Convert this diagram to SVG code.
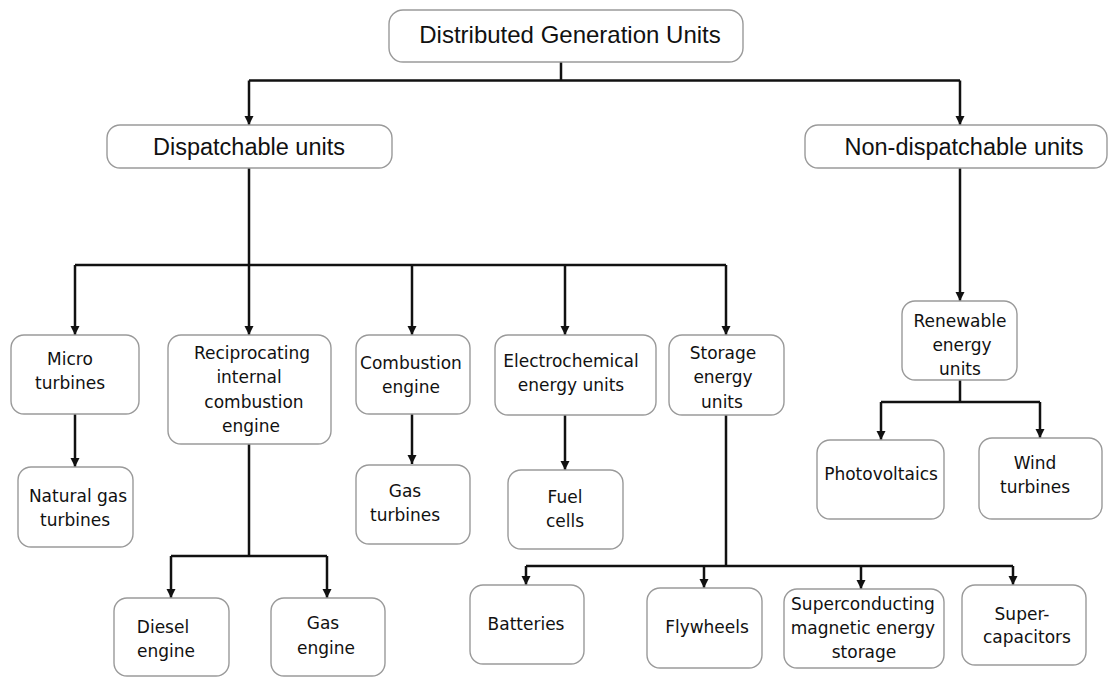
<svg xmlns="http://www.w3.org/2000/svg" width="1109" height="677" viewBox="0 0 1109 677">
<style>
.box{fill:#fff;stroke:#9a9a9a;stroke-width:1.4}
.big{font-family:"Liberation Sans",Arial,sans-serif;font-size:23.5px;fill:#111;text-anchor:middle}
.sm{font-family:"DejaVu Sans",sans-serif;font-size:17px;fill:#111;text-anchor:middle}
.ln{fill:none;stroke:#111;stroke-width:2.5}
.ar{fill:none;stroke:#111;stroke-width:2.5;marker-end:url(#ah)}
</style>
<defs>
<marker id="ah" markerUnits="userSpaceOnUse" markerWidth="10" markerHeight="10" refX="9" refY="5" orient="auto">
<path d="M0,0.5 L9,5 L0,9.5 z" fill="#111"/>
</marker>
</defs>
<rect width="1109" height="677" fill="#fff"/>
<g id="connectors">
<path class="ln" d="M561,62 V80.5 M249,80.5 H960"/>
<path class="ar" d="M249,80.5 V125"/>
<path class="ar" d="M960,80.5 V125"/>
<path class="ln" d="M249,168 V265 M75,265 H726"/>
<path class="ar" d="M75,265 V335"/>
<path class="ar" d="M249,265 V335"/>
<path class="ar" d="M412,265 V335"/>
<path class="ar" d="M565,265 V335"/>
<path class="ar" d="M726,265 V335"/>
<path class="ar" d="M75,414 V467"/>
<path class="ln" d="M249,444 V556 M171,556 H327"/>
<path class="ar" d="M171,556 V598"/>
<path class="ar" d="M327,556 V598"/>
<path class="ar" d="M412,414 V464"/>
<path class="ar" d="M565,415 V470"/>
<path class="ln" d="M726,415 V566 M526,566 H1013"/>
<path class="ar" d="M526,566 V585"/>
<path class="ar" d="M704,566 V588"/>
<path class="ar" d="M861,566 V589"/>
<path class="ar" d="M1013,566 V585"/>
<path class="ar" d="M960,168 V301"/>
<path class="ln" d="M960,380 V402 M881,402 H1040"/>
<path class="ar" d="M881,402 V440"/>
<path class="ar" d="M1040,402 V438"/>
</g>
<g id="root"><rect class="box" x="389" y="10" width="354" height="52" rx="14"/><text class="big" x="570" y="43" style="font-size:24px">Distributed Generation Units</text></g>
<g id="dispatchable"><rect class="box" x="107" y="125" width="285" height="43" rx="13"/><text class="big" x="249" y="155">Dispatchable units</text></g>
<g id="nondispatchable"><rect class="box" x="805" y="125" width="302" height="43" rx="13"/><text class="big" x="964" y="155">Non-dispatchable units</text></g>
<g id="micro"><rect class="box" x="11" y="335" width="128" height="79" rx="13"/><text class="sm" x="70" y="365">Micro</text><text class="sm" x="70" y="389">turbines</text></g>
<g id="natgas"><rect class="box" x="18" y="467" width="115" height="80" rx="13"/><text class="sm" x="78" y="502">Natural gas</text><text class="sm" x="75" y="526">turbines</text></g>
<g id="recip"><rect class="box" x="168" y="335" width="163" height="109" rx="13"/><text class="sm" x="252" y="359">Reciprocating</text><text class="sm" x="249" y="383">internal</text><text class="sm" x="254" y="408">combustion</text><text class="sm" x="251" y="432">engine</text></g>
<g id="diesel"><rect class="box" x="114" y="598" width="115" height="78" rx="13"/><text class="sm" x="163" y="633">Diesel</text><text class="sm" x="166" y="657">engine</text></g>
<g id="gasengine"><rect class="box" x="271" y="598" width="114" height="78" rx="13"/><text class="sm" x="323" y="629">Gas</text><text class="sm" x="326" y="654">engine</text></g>
<g id="combustion"><rect class="box" x="356" y="335" width="114" height="79" rx="13"/><text class="sm" x="411" y="369">Combustion</text><text class="sm" x="411" y="393">engine</text></g>
<g id="gasturb"><rect class="box" x="356" y="465" width="114" height="79" rx="13"/><text class="sm" x="405" y="497">Gas</text><text class="sm" x="405" y="521">turbines</text></g>
<g id="electro"><rect class="box" x="495" y="335" width="161" height="80" rx="13"/><text class="sm" x="571" y="367">Electrochemical</text><text class="sm" x="571" y="391">energy units</text></g>
<g id="fuel"><rect class="box" x="508" y="470" width="115" height="79" rx="13"/><text class="sm" x="565" y="503">Fuel</text><text class="sm" x="565" y="527">cells</text></g>
<g id="storage"><rect class="box" x="669" y="335" width="115" height="80" rx="13"/><text class="sm" x="723" y="359">Storage</text><text class="sm" x="723" y="383">energy</text><text class="sm" x="722" y="408">units</text></g>
<g id="batteries"><rect class="box" x="470" y="585" width="114" height="79" rx="13"/><text class="sm" x="526" y="630">Batteries</text></g>
<g id="flywheels"><rect class="box" x="647" y="588" width="115" height="80" rx="13"/><text class="sm" x="707" y="633">Flywheels</text></g>
<g id="smes"><rect class="box" x="784" y="589" width="160" height="79" rx="13"/><text class="sm" x="863" y="610">Superconducting</text><text class="sm" x="863" y="634">magnetic energy</text><text class="sm" x="864" y="658">storage</text></g>
<g id="supercap"><rect class="box" x="962" y="585" width="124" height="80" rx="13"/><text class="sm" x="1022" y="620">Super-</text><text class="sm" x="1027" y="643">capacitors</text></g>
<g id="renewable"><rect class="box" x="902" y="301" width="115" height="79" rx="13"/><text class="sm" x="960" y="327">Renewable</text><text class="sm" x="962" y="351">energy</text><text class="sm" x="960" y="375">units</text></g>
<g id="pv"><rect class="box" x="817" y="440" width="127" height="79" rx="13"/><text class="sm" x="881" y="480">Photovoltaics</text></g>
<g id="wind"><rect class="box" x="979" y="438" width="123" height="81" rx="13"/><text class="sm" x="1035" y="469">Wind</text><text class="sm" x="1035" y="493">turbines</text></g>
</svg>
